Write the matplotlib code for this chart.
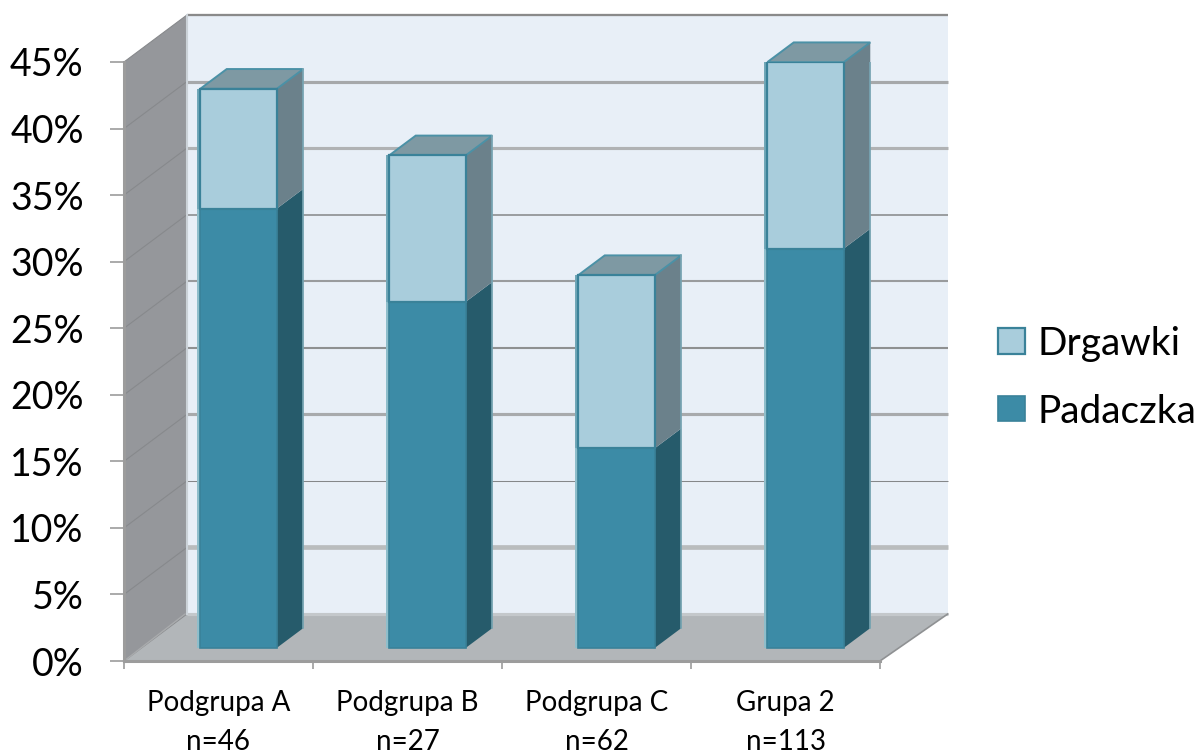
import matplotlib
matplotlib.use('Agg')
import matplotlib.pyplot as plt
from matplotlib.patches import Patch, Polygon

categories = ['Podgrupa A\nn=46', 'Podgrupa B\nn=27', 'Podgrupa C\nn=62', 'Grupa 2\nn=113']
padaczka = [33, 26, 15, 30]
drgawki = [9, 11, 13, 14]
y_levels = [0, 5, 10, 15, 20, 25, 30, 35, 40, 45]

# how much the back wall is shifted from the front plane, in axis units
DEPTH_X = 0.333
DEPTH_Y = 3.53
RIGHT_X = 4.358  # right end of the back wall
BAR_WIDTH = 0.405
BAR_START = 0.28  # where the bars sit on the floor, 0 = front, 1 = back
BAR_DEPTH = 0.42

COL_WALL = '#E8EFF7'
COL_SIDE = '#95979B'
COL_FLOOR = '#B2B6B9'
COL_EDGE = '#3A8299'

# width and colour of each wall gridline, they do not render evenly
grid_styles = {
    0: (3.0, '#C4C8CB'), 5: (4.5, '#B9BCBD'), 10: (1.0, '#858789'), 15: (3.0, '#A8AAAC'),
    20: (2.0, '#8E9091'), 25: (2.0, '#999B9D'), 30: (1.6, '#8C8E90'), 35: (3.0, '#B0B2B4'),
    40: (3.0, '#A6A8AA'), 45: (2.2, '#8A8A8A'),
}

plt.rcParams['font.family'] = ['Lato', 'DejaVu Sans']

fig = plt.figure(figsize=(11.99, 7.54), dpi=100)
ax = fig.add_axes([124 / 1199, 93 / 754, 756 / 1199, 599 / 754])
ax.set_xlim(0, 4)
ax.set_ylim(0, 45)


def add_poly(points, color, z, edge='none', lw=0):
    ax.add_patch(Polygon(points, closed=True, facecolor=color, edgecolor=edge,
                         linewidth=lw, zorder=z, clip_on=False))


# back wall, left wall and floor
add_poly([(DEPTH_X, DEPTH_Y), (RIGHT_X, DEPTH_Y), (RIGHT_X, 45 + DEPTH_Y), (DEPTH_X, 45 + DEPTH_Y)], COL_WALL, 1)
add_poly([(0, 0), (DEPTH_X, DEPTH_Y), (DEPTH_X, 45 + DEPTH_Y), (0, 45)], COL_SIDE, 1)
add_poly([(0, 0), (4, 0), (RIGHT_X, DEPTH_Y), (DEPTH_X, DEPTH_Y)], COL_FLOOR, 2)

for level in y_levels:
    lw, col = grid_styles[level]
    ax.plot([DEPTH_X, RIGHT_X], [level + DEPTH_Y, level + DEPTH_Y], color=col, lw=lw * 0.75,
            zorder=3, clip_on=False, solid_capstyle='butt')
    ax.plot([0, DEPTH_X], [level, level + DEPTH_Y], color='#87898C', lw=0.8, zorder=2, clip_on=False)
ax.plot([0, DEPTH_X * 0.97], [0, DEPTH_Y], color='#A9ABAD', lw=1.0, zorder=3)
ax.plot([4, RIGHT_X], [0, DEPTH_Y], color='#8F9193', lw=1.2, zorder=3, clip_on=False)
ax.plot([DEPTH_X, DEPTH_X], [DEPTH_Y, 45 + DEPTH_Y], color='#CBD2D8', lw=1.5, zorder=3, clip_on=False)

# stacked bars with their top and side faces
x_pos = [i + 0.513 + BAR_START * DEPTH_X for i in range(len(categories))]
base = BAR_START * DEPTH_Y
dx = BAR_DEPTH * DEPTH_X
dy = BAR_DEPTH * DEPTH_Y
for i, x in enumerate(x_pos):
    low = padaczka[i]
    top = padaczka[i] + drgawki[i]
    left = x - BAR_WIDTH / 2
    right = x + BAR_WIDTH / 2
    # light strips along the outer edges
    ax.bar(left - 0.01, low, width=0.02, bottom=base, color='#8FBECB', zorder=4)
    ax.bar(left - 0.01, drgawki[i], width=0.02, bottom=base + low, color='#72A8B8', zorder=4)
    add_poly([(right, base), (right + dx, base + dy), (right + dx, base + dy + low), (right, base + low)], '#265B6B', 4)
    add_poly([(right, base + low), (right + dx, base + dy + low), (right + dx, base + dy + top), (right, base + top)], '#6B818B', 4)
    add_poly([(left, base + top), (right, base + top), (right + dx, base + dy + top), (left + dx, base + dy + top)],
             '#7E99A3', 4, edge='#4B91A6', lw=1.4)
    ax.plot([right + dx, right + dx], [base + dy, base + dy + top], color='#78A6B4', lw=1.2, zorder=4)
    ax.bar(x, low, width=BAR_WIDTH, bottom=base, color='#3C8BA6', edgecolor='#3A8299', linewidth=1.2, zorder=5)
    ax.bar(x, drgawki[i], width=BAR_WIDTH, bottom=base + low, color='#A9CDDC', edgecolor=COL_EDGE, linewidth=1.6, zorder=5)

for side in ['top', 'right']:
    ax.spines[side].set_visible(False)
for side in ['left', 'bottom']:
    ax.spines[side].set_color('#9C9C9C')
    ax.spines[side].set_linewidth(2.2)
    ax.spines[side].set_zorder(6)

ax.set_yticks(y_levels)
ax.set_yticklabels([f'{v}%' for v in y_levels], fontsize=27)
ax.tick_params(axis='y', length=10, width=1.2, color='#9C9C9C', pad=19)
ax.set_xticks(range(5))
ax.set_xticklabels([])
ax.tick_params(axis='x', which='major', length=6, width=1.2, color='#9C9C9C')
ax.set_xticks([i + 0.5 for i in range(len(categories))], minor=True)
ax.set_xticklabels(categories, minor=True, fontsize=20, linespacing=1.6)
ax.tick_params(axis='x', which='minor', length=0, pad=21)

handles = [Patch(facecolor='#A9CDDC', edgecolor=COL_EDGE, linewidth=1.6, label='Drgawki'),
           Patch(facecolor='#3C8BA6', edgecolor=COL_EDGE, linewidth=1.2, label='Padaczka')]
fig.legend(handles=handles, loc='upper left', bbox_to_anchor=(986 / 1199, 1 - 314 / 754), frameon=False,
           fontsize=28, handlelength=0.7, handleheight=0.62, handletextpad=0.32, labelspacing=0.82,
           borderpad=0.3, borderaxespad=0)

fig.savefig('out.png', dpi=100)
